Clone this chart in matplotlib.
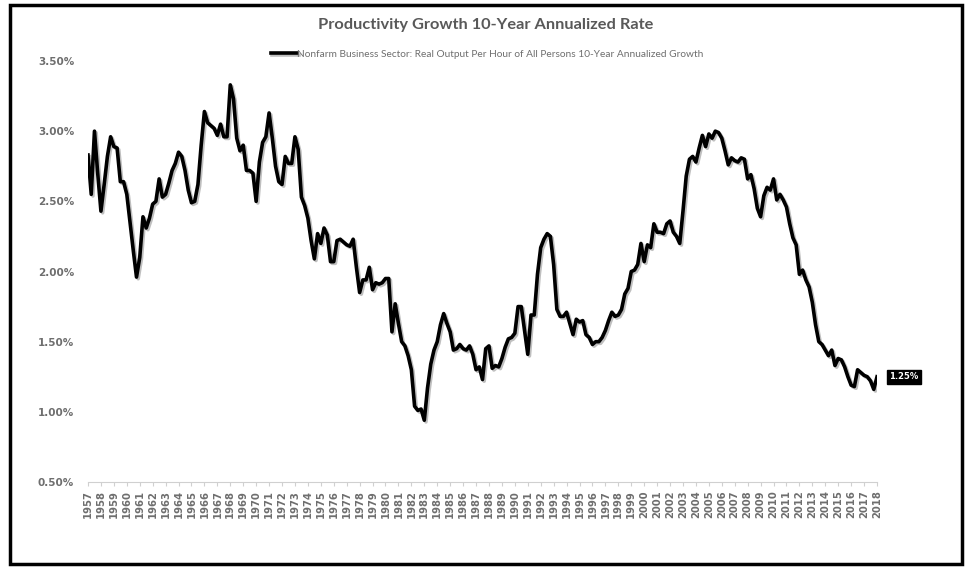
import matplotlib
matplotlib.use("Agg")
import matplotlib.pyplot as plt
import matplotlib.patheffects as pe
from matplotlib.patches import Rectangle

# quarterly 10-year annualized growth (%), 1957Q1 .. 2018Q1
growth = [
    2.83, 2.55, 3.00, 2.70, 2.43, 2.62, 2.82, 2.96, 2.89, 2.88,
    2.64, 2.64, 2.55, 2.35, 2.15, 1.96, 2.10, 2.39, 2.31, 2.38,
    2.48, 2.50, 2.66, 2.53, 2.55, 2.63, 2.72, 2.77, 2.85, 2.82,
    2.72, 2.58, 2.49, 2.50, 2.62, 2.90, 3.14, 3.06, 3.04, 3.02,
    2.97, 3.05, 2.96, 2.96, 3.33, 3.23, 2.95, 2.86, 2.90, 2.72,
    2.72, 2.70, 2.50, 2.78, 2.92, 2.96, 3.13, 2.95, 2.75, 2.64,
    2.62, 2.82, 2.77, 2.77, 2.96, 2.87, 2.53, 2.47, 2.38, 2.22,
    2.09, 2.27, 2.20, 2.31, 2.26, 2.07, 2.07, 2.22, 2.23, 2.21,
    2.19, 2.18, 2.23, 2.03, 1.85, 1.94, 1.94, 2.03, 1.87, 1.92,
    1.91, 1.92, 1.95, 1.95, 1.57, 1.77, 1.63, 1.50, 1.47, 1.40,
    1.30, 1.04, 1.01, 1.02, 0.94, 1.17, 1.34, 1.44, 1.50, 1.62,
    1.70, 1.63, 1.57, 1.44, 1.45, 1.48, 1.45, 1.44, 1.47, 1.41,
    1.30, 1.32, 1.23, 1.45, 1.47, 1.31, 1.33, 1.32, 1.38, 1.46,
    1.52, 1.53, 1.56, 1.75, 1.75, 1.58, 1.41, 1.69, 1.69, 1.98,
    2.17, 2.23, 2.27, 2.25, 2.05, 1.73, 1.68, 1.68, 1.71, 1.63,
    1.55, 1.66, 1.64, 1.65, 1.55, 1.53, 1.48, 1.50, 1.50, 1.53,
    1.58, 1.65, 1.71, 1.68, 1.69, 1.73, 1.84, 1.88, 2.00, 2.01,
    2.05, 2.20, 2.07, 2.19, 2.17, 2.34, 2.28, 2.28, 2.27, 2.34,
    2.36, 2.28, 2.25, 2.20, 2.43, 2.68, 2.80, 2.82, 2.78, 2.88,
    2.97, 2.89, 2.98, 2.95, 3.00, 2.99, 2.95, 2.86, 2.76, 2.81,
    2.79, 2.78, 2.81, 2.80, 2.66, 2.69, 2.59, 2.45, 2.39, 2.54,
    2.60, 2.58, 2.66, 2.51, 2.55, 2.51, 2.46, 2.34, 2.24, 2.19,
    1.98, 2.01, 1.94, 1.89, 1.78, 1.62, 1.50, 1.48, 1.44, 1.40,
    1.44, 1.33, 1.38, 1.37, 1.32, 1.25, 1.19, 1.18, 1.30, 1.28,
    1.26, 1.25, 1.22, 1.16, 1.25,
]
years = list(range(1957, 2019))
yticks = [0.5, 1.0, 1.5, 2.0, 2.5, 3.0, 3.5]
last_label = "1.25%"

gray = "#6e6e6e"
fig = plt.figure(figsize=(9.71, 5.70), dpi=100)
ax = fig.add_axes([88 / 971, 1 - 482 / 570, (877 - 88) / 971, (482 - 61) / 570])

x = list(range(len(growth)))
ax.plot(x, growth, color="black", lw=2.6, solid_joinstyle="round",
        label="Nonfarm Business Sector: Real Output Per Hour of All Persons 10-Year Annualized Growth",
        path_effects=[pe.SimpleLineShadow(offset=(1.2, -1.2), alpha=0.25), pe.Normal()])

ax.set_xlim(0, len(growth) - 1)
ax.set_ylim(0.5, 3.5)
ax.set_yticks(yticks)
ax.set_yticklabels(["%.2f%%" % v for v in yticks], fontsize=7.5, fontweight="bold", color=gray)
ax.set_xticks([4 * i for i in range(len(years))])
ax.set_xticklabels([str(y) for y in years], rotation=90, fontsize=7.2, fontweight="bold", color=gray)
ax.tick_params(axis="y", length=0, pad=10)
ax.tick_params(axis="x", length=3, color="#d0d0d0", pad=3)
for s in ["top", "right", "left"]:
    ax.spines[s].set_visible(False)
ax.spines["bottom"].set_color("#d0d0d0")

ax.annotate(last_label, xy=(len(growth) - 1, growth[-1]), xytext=(9, 0),
            textcoords="offset points", va="center", ha="left",
            fontsize=6, fontweight="bold", color="white",
            bbox=dict(boxstyle="square,pad=0.3", fc="black", ec="black"))

fig.text(0.5, 1 - 25 / 570, "Productivity Growth 10-Year Annualized Rate",
         ha="center", va="center", fontsize=11.8, fontweight="bold",
         color="#595959", family="Lato")
ax.legend(loc="center", bbox_to_anchor=(487 / 971, 1 - 54 / 570),
          bbox_transform=fig.transFigure, frameon=False, handlelength=2.6,
          handletextpad=0.0, prop={"family": "Lato", "size": 7.3}, labelcolor=gray)

fig.patches.append(Rectangle((10 / 971, 1 - 564 / 570), 952 / 971, 559 / 570,
                             transform=fig.transFigure, fill=False, ec="black", lw=2.5))

fig.savefig("out.png", dpi=100)
